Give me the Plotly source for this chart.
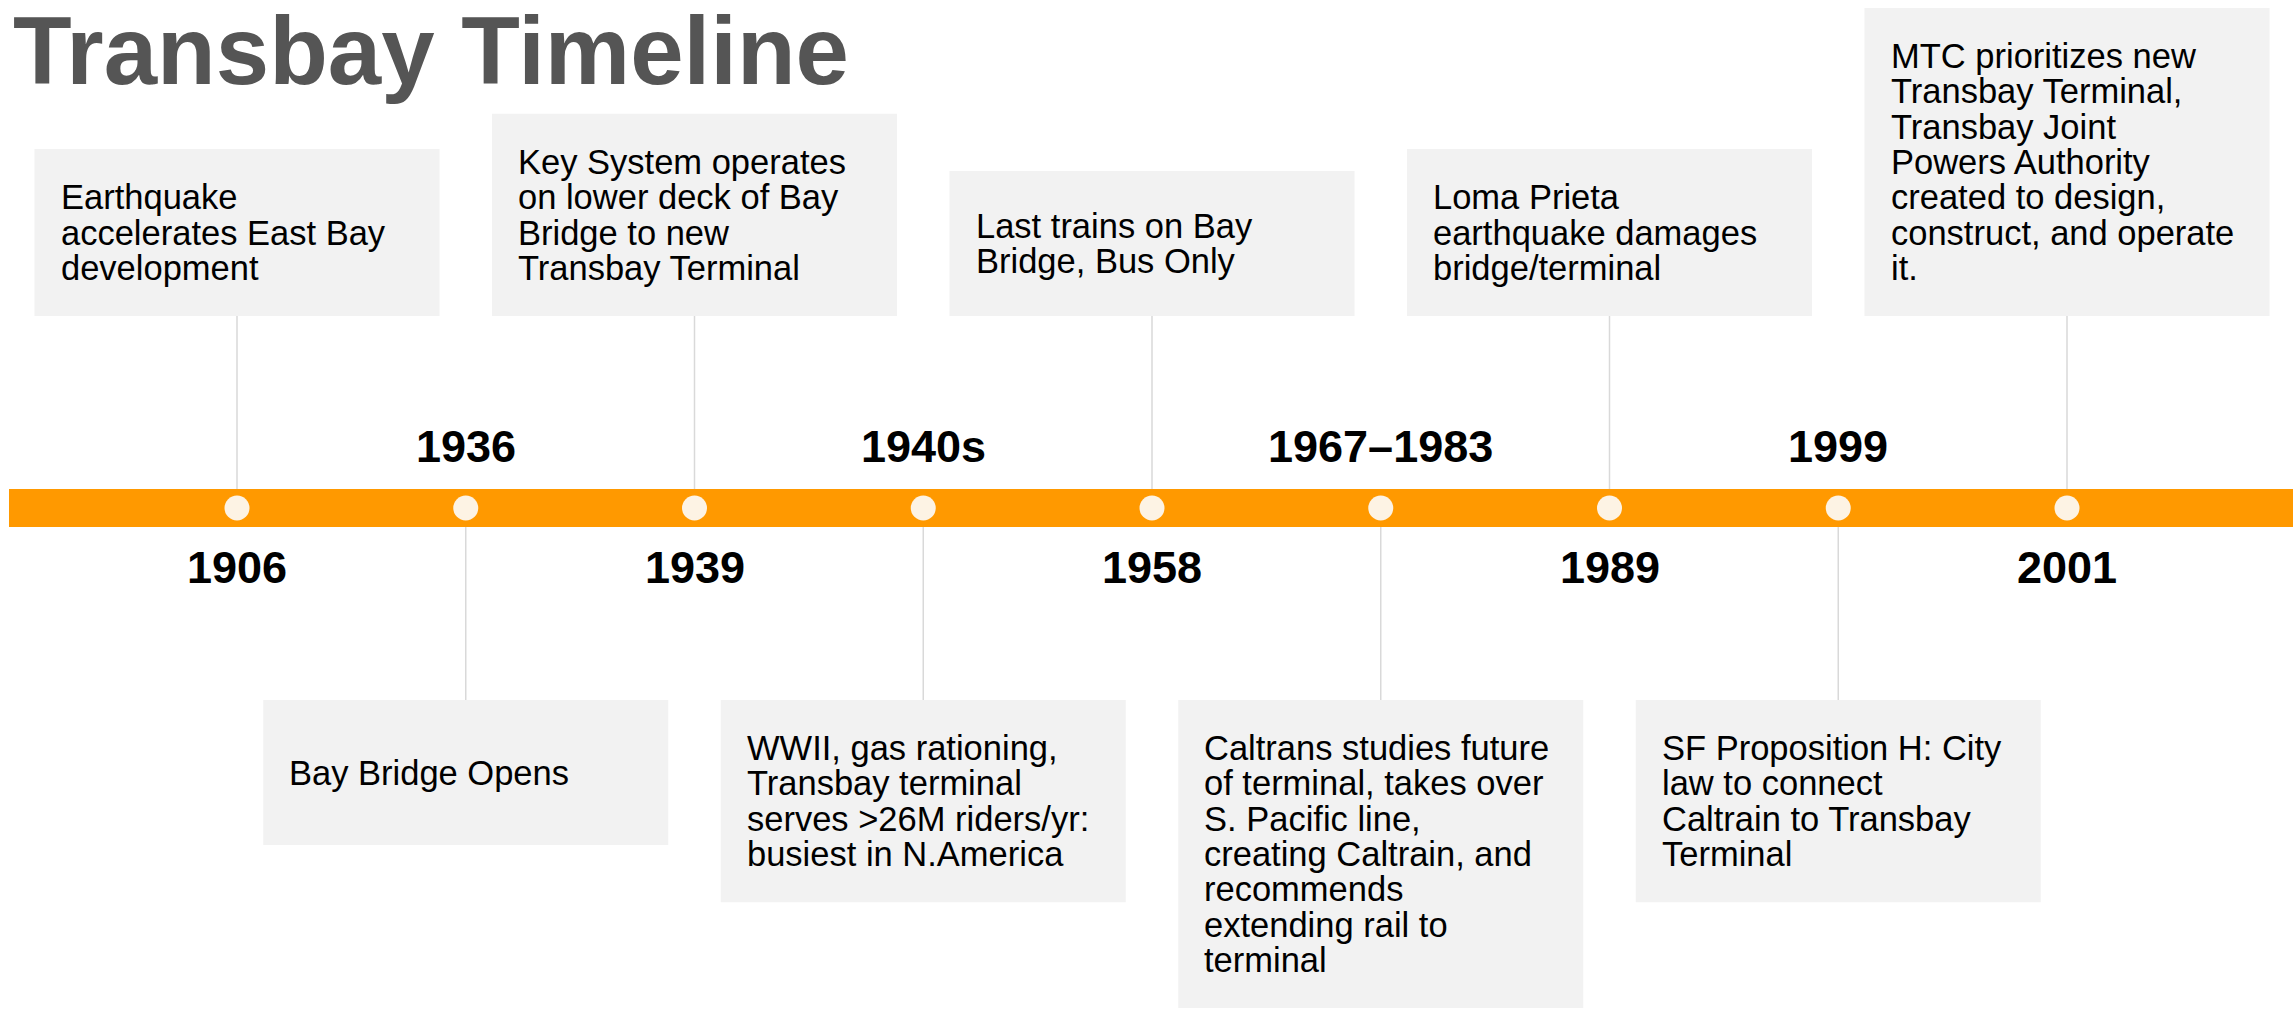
import plotly.graph_objects as go

# ---------------- data ----------------
years = ["1906", "1936", "1939", "1940s", "1958", "1967–1983", "1989", "1999", "2001"]
descriptions = [
    ["Earthquake", "accelerates East Bay", "development"],
    ["Bay Bridge Opens"],
    ["Key System operates", "on lower deck of Bay", "Bridge to new", "Transbay Terminal"],
    ["WWII, gas rationing,", "Transbay terminal", "serves >26M riders/yr:", "busiest in N.America"],
    ["Last trains on Bay", "Bridge, Bus Only"],
    ["Caltrans studies future", "of terminal, takes over", "S. Pacific line,",
     "creating Caltrain, and", "recommends", "extending rail to", "terminal"],
    ["Loma Prieta", "earthquake damages", "bridge/terminal"],
    ["SF Proposition H: City", "law to connect", "Caltrain to Transbay", "Terminal"],
    ["MTC prioritizes new", "Transbay Terminal,", "Transbay Joint", "Powers Authority",
     "created to design,", "construct, and operate", "it."],
]
title_text = "Transbay Timeline"

# ---------------- layout constants (pixels) ----------------
W, H = 2295, 1009
X0_PX, STEP_PX = 237, 228.75
BAND_Y, BAND_H = 508, 38
BAND_X0, BAND_X1 = 9, 2293
BOX_W = 405
TOP_BOX_BOTTOM, BOTTOM_BOX_TOP = 316, 700
LINE_H, PAD, MIN_BOX_H = 35.3, 30.5, 145
TEXT_INSET = 24
FONT = "Arial, Liberation Sans, Helvetica, sans-serif"

ORANGE = "#FF9900"
CREAM = "#FDF3E4"
BOX_FILL = "#F2F2F2"
CONNECT = "#D9D9D9"

def px_to_x(px):
    return (px - X0_PX) / STEP_PX

half_w = (BOX_W / 2) / STEP_PX
inset = TEXT_INSET / STEP_PX

shapes = []
annotations = []

idx = list(range(len(years)))
for i, (yr, lines) in enumerate(zip(years, descriptions)):
    n = len(lines)
    h = max(MIN_BOX_H, n * LINE_H + 2 * PAD)
    top = (i % 2 == 0)
    if top:
        y0, y1 = TOP_BOX_BOTTOM - h, TOP_BOX_BOTTOM
        line_y0, line_y1 = TOP_BOX_BOTTOM, BAND_Y
        label_y = 567   # year label sits on the opposite side of the band
    else:
        y0, y1 = BOTTOM_BOX_TOP, BOTTOM_BOX_TOP + h
        line_y0, line_y1 = BAND_Y, BOTTOM_BOX_TOP
        label_y = 446
    # connector
    shapes.append(dict(type="line", xref="x", yref="y", x0=i, x1=i, y0=line_y0, y1=line_y1,
                       line=dict(color=CONNECT, width=1.5), layer="below"))
    # box
    shapes.append(dict(type="rect", xref="x", yref="y", x0=i - half_w, x1=i + half_w,
                       y0=y0, y1=y1, fillcolor=BOX_FILL, line=dict(width=0), layer="below"))
    # text lines
    cy = (y0 + y1) / 2
    for k, ln in enumerate(lines):
        annotations.append(dict(x=i - half_w + inset, y=cy + (k - (n - 1) / 2) * LINE_H,
                                xref="x", yref="y", text=ln, showarrow=False,
                                xanchor="left", yanchor="middle",
                                font=dict(family=FONT, size=34.5, color="#000000")))
    # year label
    annotations.append(dict(x=i, y=label_y, xref="x", yref="y", text="<b>%s</b>" % yr,
                            showarrow=False, xanchor="center", yanchor="middle",
                            font=dict(family=FONT, size=45, color="#000000")))

# band
shapes.append(dict(type="rect", xref="x", yref="y", x0=px_to_x(BAND_X0), x1=px_to_x(BAND_X1),
                   y0=BAND_Y - BAND_H / 2, y1=BAND_Y + BAND_H / 2,
                   fillcolor=ORANGE, line=dict(width=0), layer="below"))

# title
annotations.append(dict(x=px_to_x(11), y=50, xref="x", yref="y", text="<b>%s</b>" % title_text,
                        showarrow=False, xanchor="left", yanchor="middle",
                        font=dict(family=FONT, size=96, color="#555555")))

fig = go.Figure()
fig.add_trace(go.Scatter(x=idx, y=[BAND_Y] * len(idx), mode="markers",
                         marker=dict(size=25, color=CREAM, line=dict(width=0)),
                         hoverinfo="skip", showlegend=False))

fig.update_layout(
    width=W, height=H,
    margin=dict(l=0, r=0, t=0, b=0),
    paper_bgcolor="white", plot_bgcolor="white",
    xaxis=dict(range=[px_to_x(0), px_to_x(W)], visible=False, showgrid=False,
               zeroline=False, fixedrange=True),
    yaxis=dict(range=[H, 0], visible=False, showgrid=False, zeroline=False, fixedrange=True),
    shapes=shapes,
    annotations=annotations,
    showlegend=False,
)

fig.write_html("out.html", config={"displayModeBar": False},
               post_script="document.body.style.margin='0';document.body.style.overflow='hidden';")
